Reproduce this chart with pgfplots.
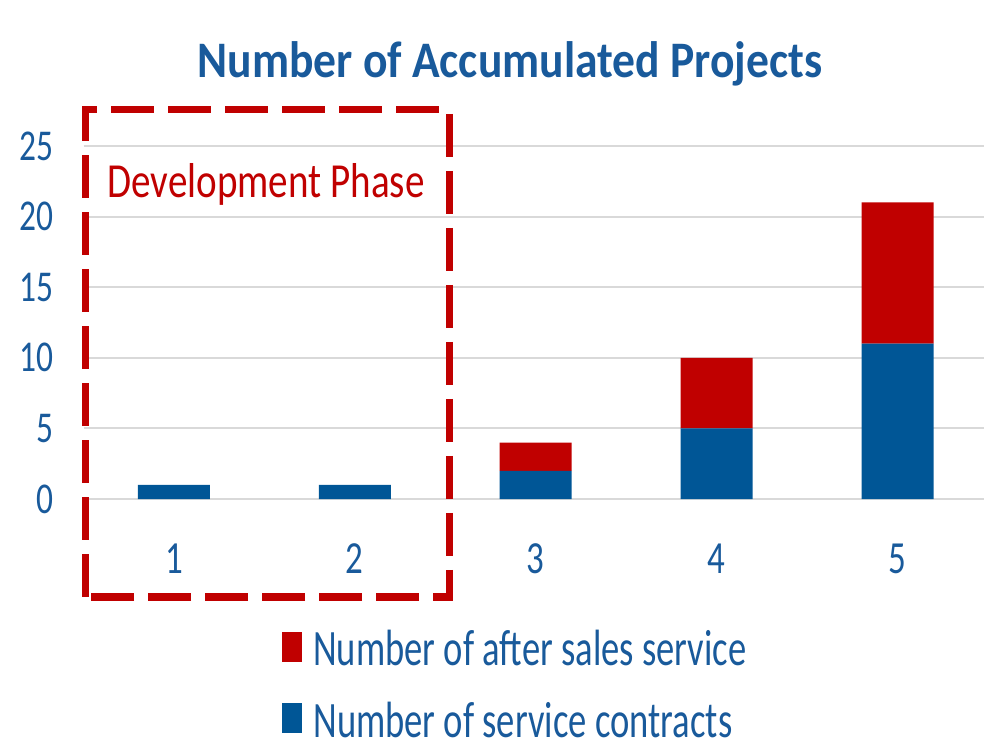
\documentclass[border=0pt]{standalone}
\usepackage{fontspec}
\setmainfont{Carlito}
\usepackage{pgfplots}
\pgfplotsset{compat=1.18}
\definecolor{cblue}{RGB}{0,86,150}
\definecolor{cred}{RGB}{192,0,0}
\definecolor{tblue}{RGB}{25,90,155}
\definecolor{gridc}{RGB}{217,217,217}
\newcommand\sx[1]{\scalebox{0.76}[1]{#1}}
\begin{document}
\begin{tikzpicture}
\useasboundingbox (0pt,0pt) rectangle (492pt,372pt);
\begin{axis}[
  at={(41.75pt,122.5pt)}, anchor=south west,
  scale only axis, width=450.25pt, height=176.5pt,
  xmin=0.5, xmax=5.478, ymin=0, ymax=25,
  ybar stacked, bar width=36pt,
  axis line style={draw=none}, major tick length=0pt,
  ymajorgrids, grid style={gridc, line width=1pt},
  xtick={1,2,3,4,5}, xticklabels={\sx{1},\sx{2},\sx{3},\sx{4},\sx{5}},
  ytick={0,5,10,15,20,25}, yticklabels={\sx{0},\sx{5},\sx{10},\sx{15},\sx{20},\sx{25}},
  yticklabel style={font=\fontsize{22}{26}\selectfont, text=tblue, anchor=east, xshift=-11.5pt},
  xticklabel style={font=\fontsize{23}{27}\selectfont, text=tblue, anchor=north, yshift=-19pt},
  clip=false,
  reverse legend,
  legend cell align=left,
  legend style={at={(0.2204,-0.371)}, anchor=north west, draw=none, fill=none,
    inner sep=0pt, font=\fontsize{25.5}{30}\selectfont, text=tblue, row sep=16.5pt,
    nodes={inner sep=0pt}},
  legend image code/.code={\fill[#1] (0pt,-6pt) rectangle (10pt,9pt);},
]
\addplot[fill=cblue, draw=none] coordinates {(1,1) (2,1) (3,2) (4,5) (5,11)};
\addplot[fill=cred, draw=none] coordinates {(1,0) (2,0) (3,2) (4,5) (5,10)};
\legend{\hspace{5.5pt}\resizebox{209.5pt}{\height}{Number of service contracts},\hspace{5.5pt}\resizebox{216.5pt}{\height}{Number of after sales service}}
\end{axis}
\draw[cred, line width=3.5pt, dash pattern=on 21.5pt off 7pt] (42.5pt,73.5pt) rectangle (224.5pt,317pt);
\node[anchor=base, text=cred, font=\fontsize{24.5}{28}\selectfont, inner sep=0pt] at (133pt,273pt) {\resizebox{158.5pt}{\height}{Development Phase}};
\node[anchor=base, text=tblue, font=\bfseries\fontsize{25.6}{30}\selectfont, inner sep=0pt] at (255pt,333pt) {\resizebox{312.5pt}{\height}{Number of Accumulated Projects}};
\end{tikzpicture}
\end{document}
